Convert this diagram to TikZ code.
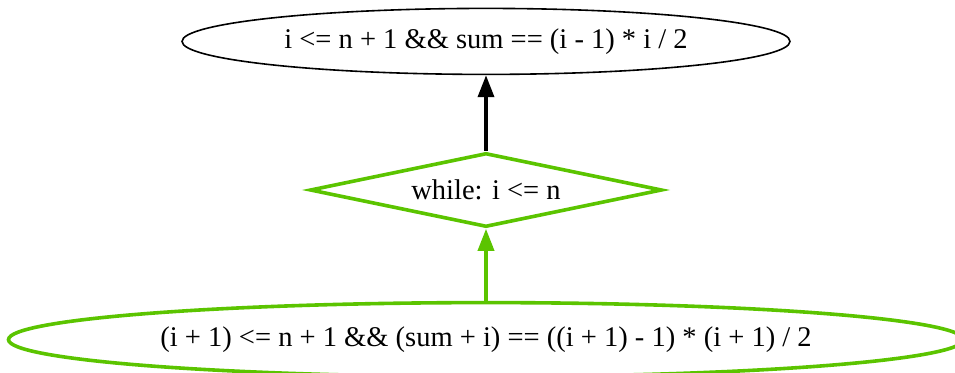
\documentclass[tikz,border=0pt]{standalone}
\usepackage{fontspec}
\setmainfont{Liberation Serif}
\usetikzlibrary{arrows.meta,positioning,shapes.geometric}
\definecolor{loopgreen}{HTML}{5BC400}

\begin{document}
\begin{tikzpicture}[x=1pt,y=1pt,node distance=76pt,every node/.style={font=\fontsize{28.5}{33}\selectfont,align=center,inner sep=0pt},oval/.style={ellipse,minimum height=66pt},greenline/.style={draw=loopgreen,line width=3.6pt}]
\useasboundingbox (0,0) rectangle (955,-372);
\node[diamond,greenline,minimum width=352pt,minimum height=74pt,aspect=4.75] (loop) at (486,-190) {while: i <= n};
\node[oval,draw=black,line width=1.6pt,minimum width=608pt,above=of loop] (post) {i <= n + 1 \&\& sum == (i - 1) * i / 2};
\node[oval,greenline,minimum width=955pt,minimum height=74pt,below=72pt of loop] (pre) {(i + 1) <= n + 1 \&\& (sum + i) == ((i + 1) - 1) * (i + 1) / 2};
\draw[-{Triangle[length=22pt,width=16pt]},line width=3.6pt] (loop) -- (post);
\draw[-{Triangle[length=22pt,width=16pt]},line width=3.6pt,loopgreen] (pre) -- (loop);
\end{tikzpicture}
\end{document}
